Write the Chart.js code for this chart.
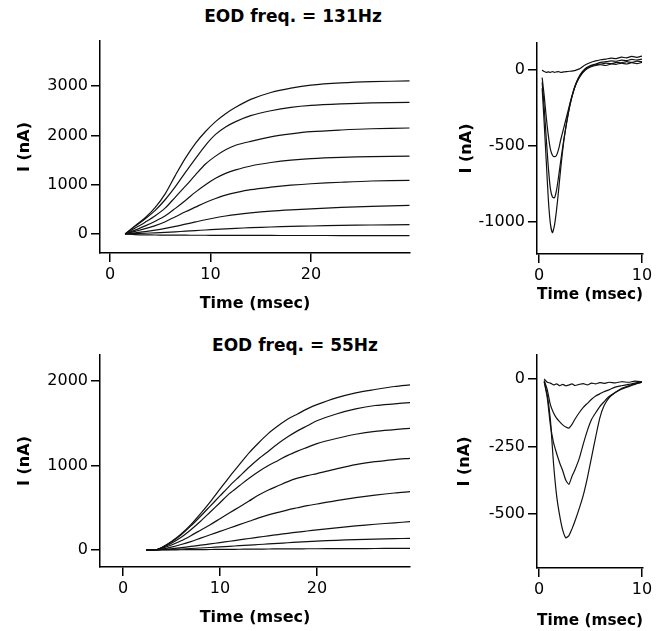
<!DOCTYPE html>
<html>
<head>
<meta charset="utf-8">
<script src="https://cdn.jsdelivr.net/npm/chart.js@4.4.1/dist/chart.umd.min.js"></script>
<style>
  body { margin: 0; background: #fff; }
  #wrap { position: relative; width: 664px; height: 631px; }
  canvas { position: absolute; }
  .ttl { position: absolute; font: bold 17px "DejaVu Sans", sans-serif; color: #000; white-space: nowrap; transform: translateX(-50%); }
</style>
</head>
<body>
<div id="wrap">
  <div class="ttl" style="left:293px; top:6px;">EOD freq. = 131Hz</div>
  <div class="ttl" style="left:295px; top:335px;">EOD freq. = 55Hz</div>
  <canvas id="c1" width="420" height="320" style="left:0; top:0;"></canvas>
  <canvas id="c2" width="224" height="320" style="left:440px; top:0;"></canvas>
  <canvas id="c3" width="420" height="311" style="left:0; top:320px;"></canvas>
  <canvas id="c4" width="224" height="311" style="left:440px; top:320px;"></canvas>
</div>
<script>
// 131 Hz, outward currents (time in msec)
var t131 = [1.5, 2.5, 3.5, 4.5, 5.5, 6.5, 7.5, 8.5, 9.5, 10.5, 11.5, 12.5, 14, 16, 18, 20, 23, 26, 29.8];
var out131 = [
  [0, 170, 330, 540, 820, 1190, 1540, 1840, 2080, 2280, 2440, 2570, 2730, 2870, 2960, 3020, 3065, 3090, 3105],
  [0, 160, 310, 480, 700, 960, 1250, 1530, 1800, 2020, 2170, 2280, 2400, 2500, 2570, 2610, 2640, 2660, 2670],
  [0, 120, 240, 370, 530, 750, 970, 1200, 1420, 1580, 1710, 1800, 1880, 1970, 2030, 2075, 2110, 2135, 2150],
  [0, 80, 165, 260, 370, 520, 680, 850, 1000, 1130, 1230, 1300, 1380, 1450, 1500, 1530, 1555, 1570, 1580],
  [0, 55, 110, 170, 250, 350, 450, 545, 640, 720, 790, 840, 900, 950, 990, 1020, 1050, 1075, 1090],
  [0, 25, 50, 80, 115, 155, 200, 245, 290, 330, 365, 395, 430, 465, 490, 510, 540, 560, 580],
  [0, 8, 16, 25, 35, 45, 57, 70, 82, 95, 105, 115, 128, 142, 155, 163, 175, 183, 190],
  [0, -12, -18, -20, -22, -23, -24, -25, -25, -26, -26, -27, -28, -29, -30, -30, -31, -32, -32]
];

// 131 Hz, inward currents
var tIn131 = [0.3, 0.5, 0.7, 0.9, 1.1, 1.3, 1.5, 1.7, 1.9, 2.1, 2.4, 2.7, 3.0, 3.3, 3.6, 4.0, 4.5, 5, 5.5, 6, 6.5, 7, 7.5, 8, 8.5, 9, 9.5, 10];
var in131 = [
  [-120, -350, -600, -850, -1010, -1070, -1020, -920, -790, -650, -470, -340, -230, -150, -90, -40, 0, 20, 30, 35, 30, 40, 38, 45, 40, 48, 42, 50],
  [-80, -250, -450, -640, -780, -835, -840, -790, -700, -600, -460, -335, -230, -150, -90, -35, 5, 25, 35, 40, 45, 42, 50, 48, 55, 50, 58, 55],
  [-50, -170, -310, -430, -520, -560, -570, -560, -520, -460, -380, -300, -220, -145, -85, -30, 10, 30, 40, 50, 55, 60, 58, 65, 62, 70, 66, 72],
  [0, -10, -15, -12, -15, -10, -15, -12, -10, -15, -12, -10, -8, -5, 0, 10, 35, 50, 60, 68, 72, 78, 75, 85, 80, 90, 84, 92]
];

// 55 Hz, outward currents
var t55 = [2.4, 3.3, 4, 5, 6, 7, 8, 9, 10, 11, 12, 13, 14, 15, 16, 17, 18, 19, 20, 22, 24, 26, 28, 29.6];
var out55 = [
  [0, 0, 30, 100, 190, 300, 430, 570, 720, 870, 1010, 1150, 1270, 1380, 1470, 1550, 1610, 1670, 1720, 1800, 1860, 1900, 1935, 1955],
  [0, 0, 30, 95, 180, 285, 400, 520, 640, 760, 870, 980, 1080, 1170, 1260, 1340, 1410, 1470, 1530, 1610, 1670, 1710, 1730, 1745],
  [0, 0, 25, 80, 150, 240, 340, 450, 560, 670, 760, 850, 930, 1000, 1060, 1120, 1170, 1215, 1260, 1320, 1370, 1405, 1425, 1440],
  [0, 0, 20, 60, 110, 170, 235, 300, 370, 440, 510, 580, 650, 710, 760, 810, 850, 880, 905, 960, 1010, 1045, 1070, 1085],
  [0, 0, 12, 35, 65, 100, 140, 180, 220, 260, 300, 340, 380, 415, 445, 475, 500, 525, 545, 585, 620, 650, 675, 690],
  [0, 0, 6, 15, 28, 42, 57, 72, 88, 104, 120, 136, 152, 168, 183, 198, 212, 225, 238, 262, 285, 305, 322, 335],
  [0, 0, 3, 7, 12, 18, 24, 30, 37, 44, 51, 58, 65, 72, 79, 86, 93, 99, 105, 115, 123, 130, 135, 138],
  [0, 0, 0, 2, 3, 4, 5, 6, 7, 8, 9, 10, 11, 12, 13, 13, 14, 15, 15, 16, 17, 18, 19, 20]
];

// 55 Hz, inward currents
var tIn55 = [0.5, 0.8, 1.1, 1.4, 1.7, 2.0, 2.3, 2.6, 2.9, 3.2, 3.5, 3.9, 4.3, 4.7, 5.1, 5.5, 5.9, 6.3, 6.8, 7.4, 8, 8.7, 9.3, 10];
var in55 = [
  [-10, -60, -150, -310, -430, -505, -560, -588, -580, -555, -525, -480, -430, -365, -290, -215, -145, -100, -70, -50, -35, -25, -18, -12],
  [-10, -70, -170, -235, -275, -310, -340, -375, -390, -360, -335, -295, -240, -190, -150, -125, -102, -85, -65, -50, -38, -28, -20, -12],
  [-5, -40, -95, -125, -145, -158, -170, -178, -182, -168, -148, -125, -105, -90, -75, -63, -55, -47, -40, -30, -25, -20, -15, -10],
  [0, -12, -15, -22, -18, -25, -20, -25, -22, -18, -24, -20, -17, -22, -15, -18, -13, -16, -12, -14, -10, -12, -8, -10]
];

// tick labels
var xTicksLong = [0, 10, 20];
var xTicksShort = [0, 10];
var yTicks131 = [0, 1000, 2000, 3000];
var yTicksIn131 = [0, -500, -1000];
var yTicks55 = [0, 1000, 2000];
var yTicksIn55 = [0, -250, -500];

var FONT = '"DejaVu Sans", sans-serif';

function makeSets(times, series, tension) {
  return series.map(function (vals) {
    return {
      data: vals.map(function (v, i) { return { x: times[i], y: v }; }),
      borderColor: '#111',
      borderWidth: 1.2,
      pointRadius: 0,
      tension: tension,
      fill: false
    };
  });
}

function axis(min, max, ticks, title, width, height, titlePad) {
  var a = {
    type: 'linear',
    min: min,
    max: max,
    grid: { display: true, drawOnChartArea: false, drawTicks: true, tickLength: 9, color: '#000', lineWidth: 1.5 },
    border: { display: true, color: '#000', width: 1.5 },
    ticks: {
      color: '#000',
      font: { family: FONT, size: 16 },
      padding: 3,
      maxRotation: 0,
      autoSkip: false,
      callback: function (v) { return String(v); }
    },
    title: { display: true, text: title, color: '#000', font: { family: FONT, size: 16, weight: 'bold' }, padding: titlePad },
    afterBuildTicks: function (s) { s.ticks = ticks.map(function (v) { return { value: v }; }); }
  };
  if (width) a.afterFit = function (s) { s.width = width; };
  if (height) a.afterFit = function (s) { s.height = height; };
  return a;
}

function panel(id, times, series, tension, xr, yr, xt, yt, yWidth, xHeight, pad, yTitlePad, xTitlePad) {
  new Chart(document.getElementById(id).getContext('2d'), {
    type: 'line',
    data: { datasets: makeSets(times, series, tension) },
    options: {
      responsive: false,
      animation: false,
      layout: { padding: pad },
      plugins: { legend: { display: false }, tooltip: { enabled: false } },
      scales: {
        x: axis(xr[0], xr[1], xt, 'Time (msec)', null, xHeight, { top: 0, bottom: xTitlePad }),
        y: axis(yr[0], yr[1], yt, 'I (nA)', yWidth, null, { top: yTitlePad, bottom: 0 })
      }
    }
  });
}

panel('c1', t131, out131, 0.3, [-1, 29.85], [-385, 3915], xTicksLong, yTicks131, 100, 67,
  { top: 41, right: 10, left: 0, bottom: 0 }, 15, 7);
panel('c2', tIn131, in131, 0.2, [-0.2, 10.1], [-1210, 178], xTicksShort, yTicksIn131, 97, 66,
  { top: 43, right: 21, left: 0, bottom: 0 }, 17, 16);
panel('c3', t55, out55, 0.3, [-2.37, 29.6], [-201, 2308], xTicksLong, yTicks55, 100, 64,
  { top: 35, right: 10, left: 0, bottom: 0 }, 15, 4);
panel('c4', tIn55, in55, 0.2, [-0.2, 10.1], [-700, 89], xTicksShort, yTicksIn55, 97, 63,
  { top: 35, right: 21, left: 0, bottom: 0 }, 15, 1);
</script>
</body>
</html>
